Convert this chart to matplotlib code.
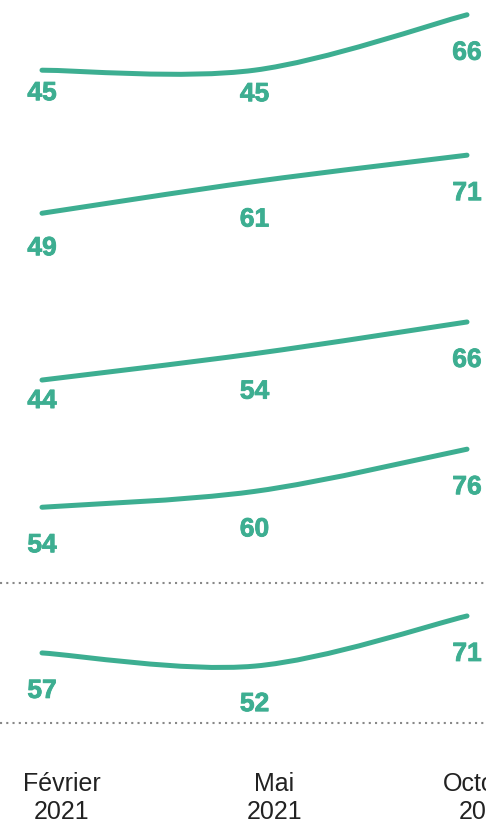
import os
import numpy as np
import matplotlib
matplotlib.use("Agg")
import matplotlib.pyplot as plt
from matplotlib.path import Path
from matplotlib.patches import PathPatch
from matplotlib.lines import Line2D
import matplotlib.transforms as mtransforms
import matplotlib.patheffects as pe
from matplotlib import font_manager

plt.rcParams['font.family'] = ['Liberation Sans', 'DejaVu Sans']

# data
periods = ["Février\n2021", "Mai\n2021", "Octobre\n2021"]
row1 = [45, 45, 66]
row2 = [49, 61, 71]
row3 = [44, 54, 66]
row4 = [54, 60, 76]
row5 = [57, 52, 71]
rows = [row1, row2, row3, row4, row5]

green = '#3dae91'
W, H = 486, 827
fig = plt.figure(figsize=(W / 100, H / 100), dpi=100)

bold = font_manager.FontProperties(family=['Liberation Sans', 'DejaVu Sans'],
                                   weight='bold', size=19)

panel_h = 153.6          # pixels per panel
ylim = (13.4, 71.6)
xlim = (-42 / 212.5, (W - 42) / 212.5)

# label nudges (pixels from point to text baseline), default 45
label_drop = {(0, 0): 30, (0, 1): 31, (1, 0): 42, (2, 0): 28}


def cardinal_path(xs, ys):
    # catmull-rom like smoothing, end points used as their own neighbours
    pts = np.column_stack([xs, ys]).astype(float)
    n = len(pts)
    verts = [pts[0]]
    codes = [Path.MOVETO]
    for i in range(n - 1):
        p_prev = pts[max(i - 1, 0)]
        p_next = pts[min(i + 2, n - 1)]
        c1 = pts[i] + (pts[i + 1] - p_prev) / 6
        c2 = pts[i + 1] - (p_next - pts[i]) / 6
        verts += [c1, c2, pts[i + 1]]
        codes += [Path.CURVE4] * 3
    return Path(verts, codes)


axes = []
for r, vals in enumerate(rows):
    top = r * panel_h
    ax = fig.add_axes([0, 1 - (top + panel_h) / H, 1, panel_h / H])
    ax.set_xlim(*xlim)
    ax.set_ylim(*ylim)
    ax.axis('off')
    x = np.arange(len(vals))
    ax.add_patch(PathPatch(cardinal_path(x, vals), fill=False, edgecolor=green,
                           lw=3.6, capstyle='round', joinstyle='round', clip_on=False))
    for i, v in enumerate(vals):
        drop = label_drop.get((r, i), 45)
        ax.annotate(str(v), (x[i], v), xytext=(0, -drop), textcoords='offset pixels',
                    ha='center', va='baseline', fontproperties=bold,
                    color=green, annotation_clip=False,
                    path_effects=[pe.withStroke(linewidth=0.6, foreground=green)])
    axes.append(ax)

# x labels under the last panel
ax = axes[-1]
ax.axis('on')
for s in ax.spines.values():
    s.set_visible(False)
ax.set_yticks([])
ax.set_xticks(np.arange(len(periods)))
ax.set_xticklabels(periods, fontsize=18, color='#222222', linespacing=1.2)
ax.tick_params(axis='x', length=0, pad=3)
shift = mtransforms.ScaledTranslation(20 / 100, 0, fig.dpi_scale_trans)
for lab in ax.get_xticklabels():
    lab.set_transform(lab.get_transform() + shift)

# dotted separators
for ypix in [583, 722.5]:
    fig.add_artist(Line2D([0, 1], [1 - ypix / H] * 2, transform=fig.transFigure,
                          color='#888888', lw=1.5, ls=(0, (1, 2))))

fig.savefig('out.png', dpi=100)
